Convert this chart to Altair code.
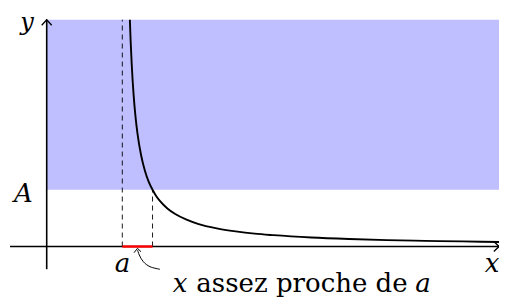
import altair as alt
import pandas as pd

# ---- values (math units) ----
curve_x = [2.2, 2.22, 2.25, 2.3, 2.35, 2.4, 2.5, 2.6, 2.7, 2.8, 2.9, 3.0, 3.2, 3.4,
           3.7, 4.0, 4.5, 5.0, 5.5, 6.0, 7.0, 8.0, 9.0, 10.0, 11.0, 12.0]
curve_y = [6.0, 5.45, 4.8, 4.0, 3.43, 3.0, 2.4, 2.0, 1.71, 1.5, 1.33, 1.2, 1.0, 0.86,
           0.71, 0.6, 0.48, 0.4, 0.34, 0.3, 0.24, 0.2, 0.17, 0.15, 0.135, 0.12]

a_val = 2.0        # vertical asymptote x = a
A_val = 1.5        # horizontal level A
x_near = 2.8       # where the curve crosses A
x_max = 12.0
y_max = 6.0
x_axis_start = -0.97
y_axis_start = -0.6

# curved annotation arrow
note_x = [2.997, 2.733, 2.556, 2.450, 2.405]
note_y = [-0.603, -0.534, -0.402, -0.225, -0.093]
note_head_x = [2.310, 2.402, 2.495]
note_head_y = [-0.164, -0.048, -0.138]

# axis arrow heads
xhead_x = [11.83, 11.966, 11.83]
xhead_y = [0.132, 0.0, -0.132]
yhead_x = [-0.132, 0.0, 0.132]
yhead_y = [5.855, 6.0, 5.855]

# labels
y_label = [{"t": "y", "x": -0.52, "y": 5.741}]
labels_math = [
    {"t": "A", "x": -0.62, "y": 1.177},
    {"t": "a", "x": 2.005, "y": -0.675},
    {"t": "x", "x": 11.78, "y": -0.675},
    {"t": "x", "x": 3.527, "y": -1.20},
    {"t": "a", "x": 9.955, "y": -1.20},
]
label_text = [{"t": "assez proche de", "x": 6.754, "y": -1.20}]

FONT = "DejaVu Serif"

X_DOMAIN = [-1.024, 11.966]
Y_DOMAIN = [-1.362, 6.310]
W, H = 491, 290

xs = alt.Scale(domain=X_DOMAIN, nice=False, zero=False)
ys = alt.Scale(domain=Y_DOMAIN, nice=False, zero=False)


def X(f="x"):
    return alt.X(f"{f}:Q", scale=xs, axis=None)


def Y(f="y"):
    return alt.Y(f"{f}:Q", scale=ys, axis=None)


rect = alt.Chart(pd.DataFrame([{"x": 0.0, "x2": x_max, "y": A_val, "y2": y_max}])).mark_rect(
    color="#BFBFFF"
).encode(x=X(), x2="x2:Q", y=Y(), y2="y2:Q")

dashes = alt.Chart(pd.DataFrame([
    {"x": a_val, "y": 0.0, "y2": y_max},
    {"x": x_near, "y": 0.0, "y2": A_val},
])).mark_rule(color="black", strokeWidth=0.9, strokeDash=[5, 4]).encode(
    x=X(), y=Y(), y2="y2:Q")

axes = alt.Chart(pd.DataFrame([
    {"x": x_axis_start, "x2": x_max, "y": 0.0, "y2": 0.0},
    {"x": 0.0, "x2": 0.0, "y": y_axis_start, "y2": y_max},
])).mark_rule(color="black", strokeWidth=1.6).encode(
    x=X(), x2="x2:Q", y=Y(), y2="y2:Q")

red = alt.Chart(pd.DataFrame([{"x": a_val, "x2": x_near, "y": 0.0}])).mark_rule(
    color="#FF0000", strokeWidth=2.4).encode(x=X(), x2="x2:Q", y=Y())

heads_df = pd.DataFrame(
    [{"g": "xh", "o": i, "x": a, "y": b} for i, (a, b) in enumerate(zip(xhead_x, xhead_y))]
    + [{"g": "yh", "o": i, "x": a, "y": b} for i, (a, b) in enumerate(zip(yhead_x, yhead_y))]
)
heads = alt.Chart(heads_df).mark_line(color="black", strokeWidth=1.3).encode(
    x=X(), y=Y(), detail="g:N", order="o:Q")

curve = alt.Chart(pd.DataFrame({"x": curve_x, "y": curve_y})).mark_line(
    color="black", strokeWidth=1.9, interpolate="monotone").encode(x=X(), y=Y(), order="x:Q")

note_df = pd.DataFrame({"x": note_x, "y": note_y, "o": list(range(len(note_x)))})
note = alt.Chart(note_df).mark_line(color="black", strokeWidth=1.0, interpolate="cardinal").encode(
    x=X(), y=Y(), order="o:Q")
nh_df = pd.DataFrame({"x": note_head_x, "y": note_head_y, "o": [0, 1, 2]})
note_head = alt.Chart(nh_df).mark_line(color="black", strokeWidth=1.0).encode(
    x=X(), y=Y(), order="o:Q")

y_txt = alt.Chart(pd.DataFrame(y_label)).mark_text(
    font=FONT, fontStyle="italic", fontSize=24, baseline="alphabetic",
    align="center", color="black").encode(x=X(), y=Y(), text="t:N")

math_txt = alt.Chart(pd.DataFrame(labels_math)).mark_text(
    font=FONT, fontStyle="italic", fontSize=26, baseline="alphabetic",
    align="center", color="black").encode(x=X(), y=Y(), text="t:N")

plain_txt = alt.Chart(pd.DataFrame(label_text)).mark_text(
    font=FONT, fontSize=26, baseline="alphabetic",
    align="center", color="black").encode(x=X(), y=Y(), text="t:N")

chart = alt.layer(rect, dashes, axes, red, heads, curve, note, note_head,
                  y_txt, math_txt, plain_txt).properties(
    width=W, height=H, padding=0, autosize=alt.AutoSizeParams(type="none")
).configure_view(stroke=None)

chart.save("out.html", embed_options={"renderer": "svg", "actions": False})
